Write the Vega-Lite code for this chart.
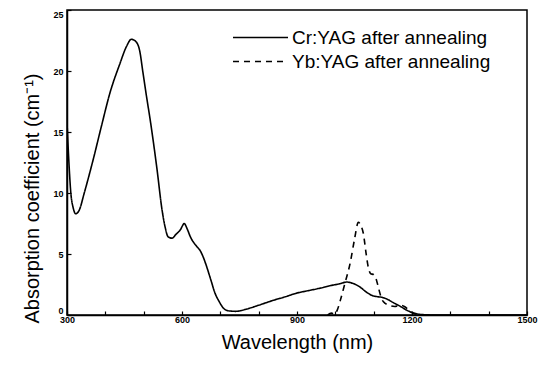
{
  "$schema": "https://vega.github.io/schema/vega-lite/v6.json",
  "width": 460,
  "height": 305,
  "autosize": "none",
  "padding": {"left": 67, "top": 10, "right": 15, "bottom": 51},
  "background": "white",
  "config": {
    "view": {"stroke": "black", "strokeWidth": 1.5},
    "font": "Liberation Sans",
    "legend": {
      "title": null,
      "orient": "none",
      "symbolType": "stroke",
      "symbolSize": 3025,
      "symbolStrokeColor": "black",
      "symbolStrokeWidth": 1.6,
      "labelFont": "Liberation Sans",
      "labelFontSize": 19,
      "labelColor": "black",
      "labelLimit": 400,
      "labelOffset": 3
    }
  },
  "data": {
    "values": [
      {"s": "Cr:YAG after annealing", "w": 300, "v": 15.8},
      {"s": "Cr:YAG after annealing", "w": 305, "v": 12.5},
      {"s": "Cr:YAG after annealing", "w": 310, "v": 10.0},
      {"s": "Cr:YAG after annealing", "w": 316, "v": 8.8},
      {"s": "Cr:YAG after annealing", "w": 323, "v": 8.3},
      {"s": "Cr:YAG after annealing", "w": 332, "v": 8.6},
      {"s": "Cr:YAG after annealing", "w": 345, "v": 10.0},
      {"s": "Cr:YAG after annealing", "w": 368, "v": 12.7},
      {"s": "Cr:YAG after annealing", "w": 390, "v": 15.5},
      {"s": "Cr:YAG after annealing", "w": 412, "v": 18.2},
      {"s": "Cr:YAG after annealing", "w": 438, "v": 20.6},
      {"s": "Cr:YAG after annealing", "w": 455, "v": 22.0},
      {"s": "Cr:YAG after annealing", "w": 468, "v": 22.6},
      {"s": "Cr:YAG after annealing", "w": 480, "v": 22.4},
      {"s": "Cr:YAG after annealing", "w": 490, "v": 21.6},
      {"s": "Cr:YAG after annealing", "w": 498, "v": 19.9},
      {"s": "Cr:YAG after annealing", "w": 508, "v": 17.8},
      {"s": "Cr:YAG after annealing", "w": 517, "v": 16.0},
      {"s": "Cr:YAG after annealing", "w": 535, "v": 11.9},
      {"s": "Cr:YAG after annealing", "w": 548, "v": 8.6},
      {"s": "Cr:YAG after annealing", "w": 556, "v": 7.2},
      {"s": "Cr:YAG after annealing", "w": 564, "v": 6.4},
      {"s": "Cr:YAG after annealing", "w": 574, "v": 6.3},
      {"s": "Cr:YAG after annealing", "w": 584, "v": 6.6},
      {"s": "Cr:YAG after annealing", "w": 596, "v": 7.0},
      {"s": "Cr:YAG after annealing", "w": 606, "v": 7.5},
      {"s": "Cr:YAG after annealing", "w": 613, "v": 7.1},
      {"s": "Cr:YAG after annealing", "w": 622, "v": 6.4},
      {"s": "Cr:YAG after annealing", "w": 639, "v": 5.6},
      {"s": "Cr:YAG after annealing", "w": 647, "v": 5.3},
      {"s": "Cr:YAG after annealing", "w": 656, "v": 4.7},
      {"s": "Cr:YAG after annealing", "w": 665, "v": 3.9},
      {"s": "Cr:YAG after annealing", "w": 676, "v": 2.8},
      {"s": "Cr:YAG after annealing", "w": 686, "v": 1.8},
      {"s": "Cr:YAG after annealing", "w": 697, "v": 1.1},
      {"s": "Cr:YAG after annealing", "w": 707, "v": 0.6},
      {"s": "Cr:YAG after annealing", "w": 720, "v": 0.35},
      {"s": "Cr:YAG after annealing", "w": 740, "v": 0.3},
      {"s": "Cr:YAG after annealing", "w": 770, "v": 0.5},
      {"s": "Cr:YAG after annealing", "w": 800, "v": 0.8},
      {"s": "Cr:YAG after annealing", "w": 838, "v": 1.2},
      {"s": "Cr:YAG after annealing", "w": 870, "v": 1.5},
      {"s": "Cr:YAG after annealing", "w": 900, "v": 1.8},
      {"s": "Cr:YAG after annealing", "w": 930, "v": 2.0},
      {"s": "Cr:YAG after annealing", "w": 960, "v": 2.2},
      {"s": "Cr:YAG after annealing", "w": 986, "v": 2.4},
      {"s": "Cr:YAG after annealing", "w": 1010, "v": 2.55},
      {"s": "Cr:YAG after annealing", "w": 1030, "v": 2.7},
      {"s": "Cr:YAG after annealing", "w": 1045, "v": 2.6},
      {"s": "Cr:YAG after annealing", "w": 1064, "v": 2.3},
      {"s": "Cr:YAG after annealing", "w": 1080, "v": 1.9},
      {"s": "Cr:YAG after annealing", "w": 1096, "v": 1.6},
      {"s": "Cr:YAG after annealing", "w": 1110, "v": 1.5},
      {"s": "Cr:YAG after annealing", "w": 1122, "v": 1.45},
      {"s": "Cr:YAG after annealing", "w": 1135, "v": 1.3},
      {"s": "Cr:YAG after annealing", "w": 1152, "v": 1.0},
      {"s": "Cr:YAG after annealing", "w": 1170, "v": 0.7},
      {"s": "Cr:YAG after annealing", "w": 1186, "v": 0.4},
      {"s": "Cr:YAG after annealing", "w": 1200, "v": 0.2},
      {"s": "Cr:YAG after annealing", "w": 1215, "v": 0.08},
      {"s": "Cr:YAG after annealing", "w": 1235, "v": 0.02},
      {"s": "Cr:YAG after annealing", "w": 1260, "v": 0},
      {"s": "Cr:YAG after annealing", "w": 1500, "v": 0},
      {"s": "Yb:YAG after annealing", "w": 980, "v": 0},
      {"s": "Yb:YAG after annealing", "w": 990, "v": 0.15},
      {"s": "Yb:YAG after annealing", "w": 998, "v": 0.05},
      {"s": "Yb:YAG after annealing", "w": 1005, "v": 0.4},
      {"s": "Yb:YAG after annealing", "w": 1013, "v": 1.2},
      {"s": "Yb:YAG after annealing", "w": 1025, "v": 2.6},
      {"s": "Yb:YAG after annealing", "w": 1039, "v": 4.3},
      {"s": "Yb:YAG after annealing", "w": 1050, "v": 6.2},
      {"s": "Yb:YAG after annealing", "w": 1060, "v": 7.6},
      {"s": "Yb:YAG after annealing", "w": 1067, "v": 7.3},
      {"s": "Yb:YAG after annealing", "w": 1073, "v": 6.7},
      {"s": "Yb:YAG after annealing", "w": 1080, "v": 5.1},
      {"s": "Yb:YAG after annealing", "w": 1086, "v": 3.9},
      {"s": "Yb:YAG after annealing", "w": 1092, "v": 3.4},
      {"s": "Yb:YAG after annealing", "w": 1100, "v": 3.3},
      {"s": "Yb:YAG after annealing", "w": 1106, "v": 3.0},
      {"s": "Yb:YAG after annealing", "w": 1112, "v": 2.3},
      {"s": "Yb:YAG after annealing", "w": 1118, "v": 1.6},
      {"s": "Yb:YAG after annealing", "w": 1125, "v": 1.1},
      {"s": "Yb:YAG after annealing", "w": 1140, "v": 0.8},
      {"s": "Yb:YAG after annealing", "w": 1155, "v": 0.7},
      {"s": "Yb:YAG after annealing", "w": 1170, "v": 0.8},
      {"s": "Yb:YAG after annealing", "w": 1180, "v": 0.7},
      {"s": "Yb:YAG after annealing", "w": 1192, "v": 0.4},
      {"s": "Yb:YAG after annealing", "w": 1200, "v": 0.2},
      {"s": "Yb:YAG after annealing", "w": 1215, "v": 0.05},
      {"s": "Yb:YAG after annealing", "w": 1230, "v": 0}
    ]
  },
  "encoding": {
    "x": {
      "field": "w", "type": "quantitative",
      "scale": {"domain": [300, 1500], "nice": false, "zero": false},
      "axis": {
        "title": "Wavelength (nm)",
        "values": [300, 400, 500, 600, 700, 800, 900, 1000, 1100, 1200, 1300, 1400, 1500],
        "labelExpr": "datum.value % 300 == 0 ? datum.label : ''",
        "format": "d",
        "grid": false,
        "domainColor": "black", "domainWidth": 1.5,
        "tickColor": "black", "tickWidth": 1.2, "tickSize": -4,
        "labelFont": "Liberation Sans Narrow, Liberation Sans", "labelFontWeight": "bold", "labelFontSize": 9, "labelColor": "black",
        "labelPadding": 4, "labelFlush": false,
        "titleFont": "Liberation Sans", "titleFontSize": 20, "titleFontWeight": "normal", "titleColor": "black",
        "titlePadding": 8
      }
    },
    "y": {
      "field": "v", "type": "quantitative",
      "scale": {"domain": [0, 25], "nice": false},
      "axis": {
        "title": "Absorption coefficient (cm⁻¹)",
        "values": [0, 5, 10, 15, 20, 25],
        "grid": false,
        "domainColor": "black", "domainWidth": 1.5,
        "tickColor": "black", "tickWidth": 1.2, "tickSize": -4,
        "labelFont": "Liberation Sans Narrow, Liberation Sans", "labelFontWeight": "bold", "labelFontSize": 9, "labelColor": "black",
        "labelPadding": 8, "labelFlush": true,
        "titleFont": "Liberation Sans", "titleFontSize": 20, "titleFontWeight": "normal", "titleColor": "black",
        "titleY": 188, "titlePadding": 10
      }
    }
  },
  "layer": [
    {
      "transform": [{"filter": "datum.s == 'Cr:YAG after annealing'"}],
      "mark": {"type": "line", "interpolate": "monotone", "color": "black", "strokeWidth": 1.6, "clip": true},
      "encoding": {
        "strokeDash": {
          "field": "s", "type": "nominal",
          "scale": {"domain": ["Cr:YAG after annealing"], "range": [[1, 0]]},
          "legend": {"legendX": 165, "legendY": -1}
        }
      }
    },
    {
      "transform": [{"filter": "datum.s == 'Yb:YAG after annealing'"}],
      "mark": {"type": "line", "interpolate": "monotone", "color": "black", "strokeWidth": 1.6, "clip": true},
      "encoding": {
        "strokeDash": {
          "field": "s", "type": "nominal",
          "scale": {"domain": ["Yb:YAG after annealing"], "range": [[6, 5]]},
          "legend": {"legendX": 165, "legendY": 23}
        }
      }
    }
  ],
  "resolve": {"scale": {"strokeDash": "independent"}, "legend": {"strokeDash": "independent"}}
}
